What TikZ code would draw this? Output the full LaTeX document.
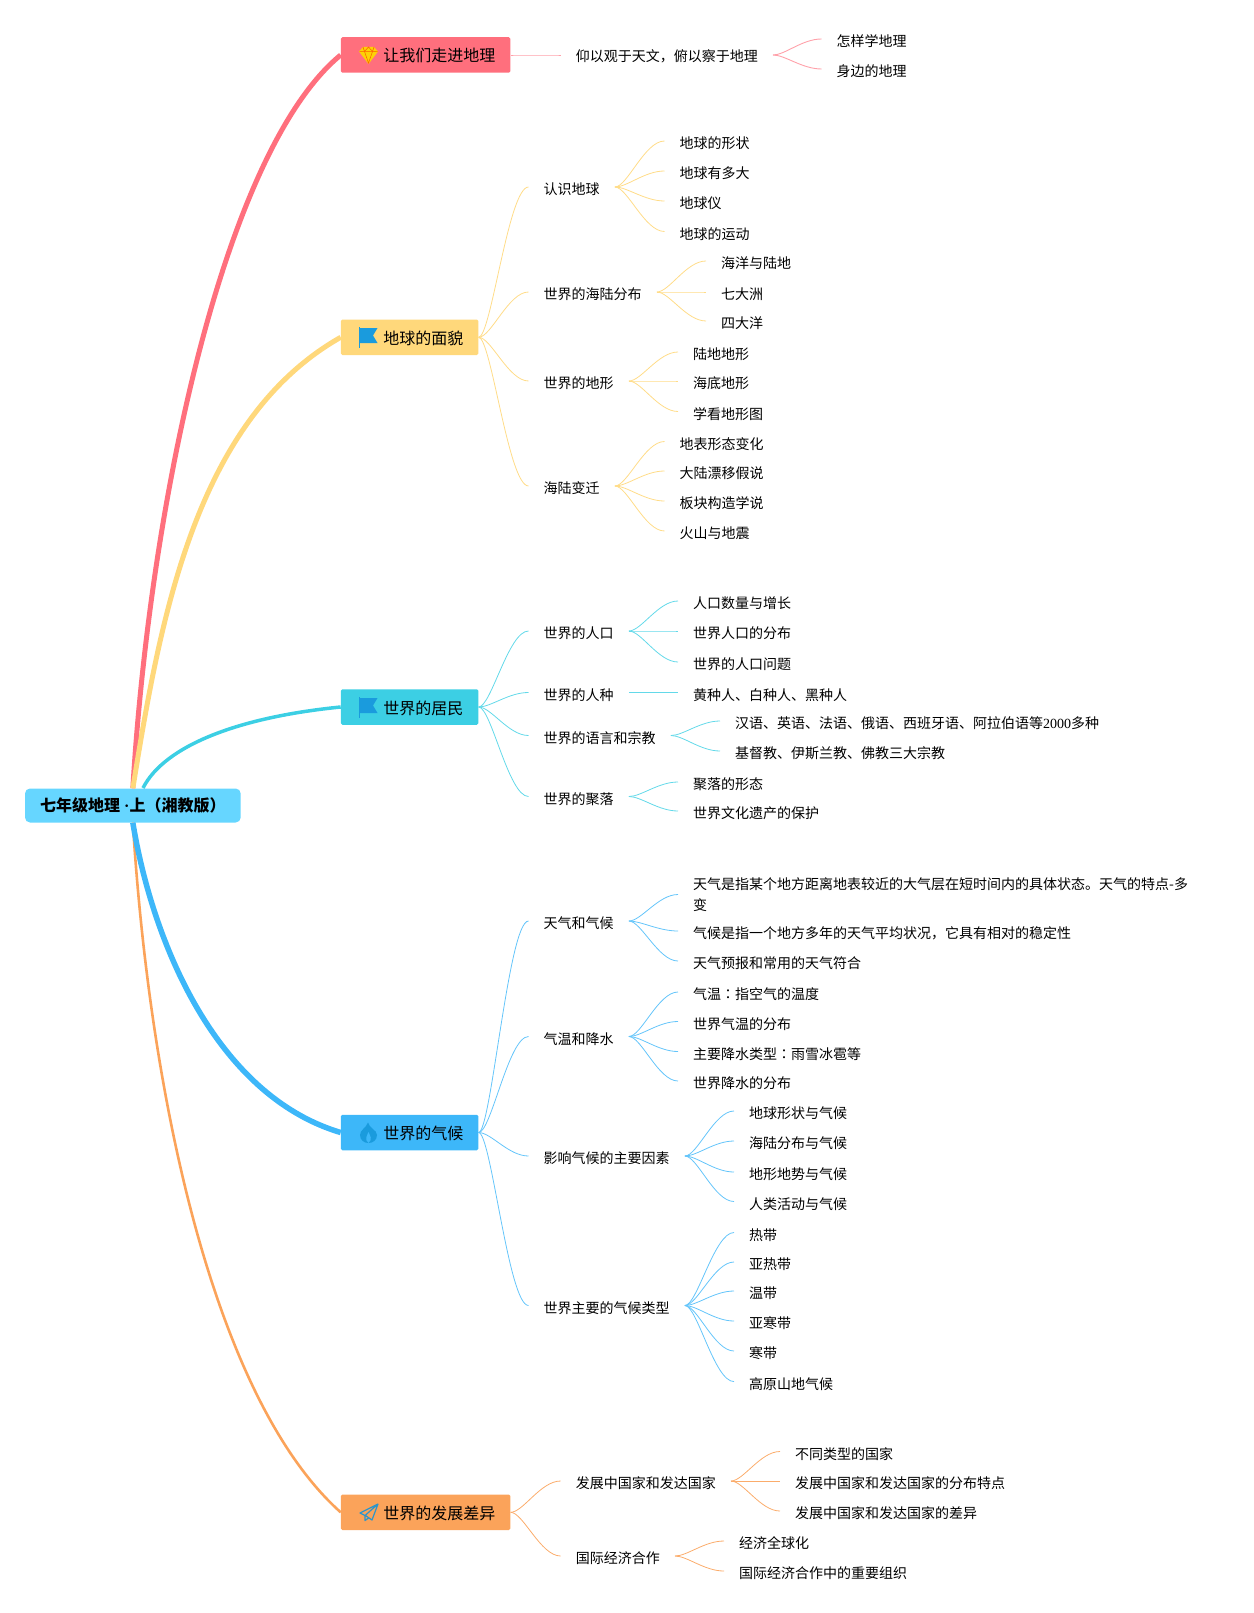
\documentclass[tikz,border=0pt]{standalone}
\usepackage{fontspec}
\setmainfont{Noto Sans CJK SC}
\newfontfamily\numfont{Liberation Serif}
\newfontfamily\colonfont{Noto Sans CJK TC}
\usetikzlibrary{calc}
\definecolor{redc}{HTML}{FF6F7D}
\definecolor{yelc}{HTML}{FFD87B}
\definecolor{cyac}{HTML}{3CCFE4}
\definecolor{bluc}{HTML}{3DB7F9}
\definecolor{orac}{HTML}{FBA35A}
\definecolor{rootc}{HTML}{66D6FF}
\definecolor{iconblue}{HTML}{1A9BDD}
\tikzset{
    rootbox/.style={fill=rootc, rounded corners=5pt, minimum width=215.7pt, minimum height=34pt, inner xsep=0pt, font=\fontsize{16}{20}\selectfont\bfseries},
    mainbox/.style={anchor=west, rounded corners=1.5pt, minimum height=35.5pt, inner xsep=15pt, text height=16pt, text depth=1.9pt, font=\fontsize{16}{20}\selectfont, execute at begin node={\hspace*{27.5pt}}},
    leaf/.style={anchor=west, inner xsep=15pt, inner ysep=0pt, text height=17pt, text depth=1.4pt, font=\fontsize{14}{20.5}\selectfont},
    wrapleaf/.style={anchor=west, inner xsep=15pt, inner ysep=0pt, align=left, font=\fontsize{14}{20.5}\selectfont},
    fork/.style={to path={.. controls ($(\tikztostart)!.25!(\tikztotarget |- \tikztostart)$) and ($(\tikztotarget)!.4!(\tikztotarget -| \tikztostart)$) .. (\tikztotarget)}},
    redline/.style={draw=redc!65, line width=0.9pt},
    yelline/.style={draw=yelc!90, line width=0.8pt},
    cyaline/.style={draw=cyac!80, line width=0.8pt},
    bluline/.style={draw=bluc!80, line width=0.8pt},
    oraline/.style={draw=orac!90, line width=0.8pt},
}
\newcommand{\twigs}[4]{%
    \foreach \nm/\y/\txt in {#4}{
        \node[leaf] (\nm) at (#2,\y) {\txt};
        \draw[#3] (#1.east) to[fork] (\nm.west);
    }
}
\begin{document}
\begin{tikzpicture}[x=1pt,y=-1pt]
    \useasboundingbox (0,0) rectangle (1253,1613);
    \node[rootbox] (root) at (132.85,805.5) {七年级地理{\numfont\ ·}上（湘教版）};
    \node[mainbox, fill=redc, text height=14.1pt] (land) at (340.7,55) {让我们走进地理};
    \node[mainbox, fill=yelc] (face) at (340.7,337.3) {地球的面貌};
    \node[mainbox, fill=cyac] (folk) at (340.7,707) {世界的居民};
    \node[mainbox, fill=bluc] (clim) at (340.7,1132.5) {世界的气候};
    \node[mainbox, fill=orac] (diff) at (340.7,1512.3) {世界的发展差异};
    \coordinate (rootr) at (143,788);
    % thick arms from the root
    \draw[orac, line width=2.6pt] (root.south) .. controls (150,1100) and (215,1400) .. (diff.west);
    \draw[bluc, line width=5.5pt] (root.south) .. controls (152,940) and (215,1095) .. (clim.west);
    \draw[cyac, line width=3.5pt] (rootr) .. controls (165,745) and (240,717) .. (folk.west);
    \draw[redc, line width=5pt] (root.north) .. controls (150,500) and (225,150) .. (land.west);
    \draw[yelc, line width=5pt] (root.north) .. controls (160,620) and (195,420) .. (face.west);
    % icons
    \fill[yellow!70!orange] (359,51.5) -- (363,47) -- (374,47) -- (378,51.5) -- (368.5,64) -- cycle;
    \draw[orange!70!red, line width=0.5pt] (359.5,51.5) -- (377.5,51.5) (363,47) -- (364.5,51.5) -- (368.5,63) -- (372.5,51.5) -- (374,47) (364.5,51.5) -- (368.5,47) -- (372.5,51.5);
    \fill[iconblue] (359,327) rectangle (359.8,348);
    \fill[iconblue] (359.8,328) -- (377.5,328) -- (373,335.5) -- (377.5,343) -- (359.8,343) -- cycle;
    \fill[iconblue] (359,697) rectangle (359.8,718);
    \fill[iconblue] (359.8,698) -- (377.5,698) -- (373,705.5) -- (377.5,713) -- (359.8,713) -- cycle;
    \fill[iconblue] (368,1122.5) .. controls (369,1128) and (377,1130) .. (377,1135) .. controls (377,1140) and (373,1143) .. (368.5,1143) .. controls (364,1143) and (360,1140) .. (360,1135) .. controls (360,1130) and (366,1128) .. (368,1122.5) -- cycle;
    \fill[bluc] (368.5,1132) .. controls (370,1136) and (373,1139) .. (368.5,1143) .. controls (364,1139) and (367,1136) .. (368.5,1132) -- cycle;
    \draw[iconblue!80!gray, line width=1.2pt, line join=round] (378,1504) -- (360,1513) -- (365,1515.5) -- (378,1504) -- (372,1520) -- (365.5,1515.5) (365,1515.5) -- (365,1520.5) -- (368.5,1518);
    % first group
    \node[leaf, text height=14pt] (view) at (560.6,55) {仰以观于天文，俯以察于地理};
    \draw[redline] (land.east) to[fork] (view.west);
    \twigs{view}{821.5}{redline}{how/39/怎样学地理, near/69/身边的地理}
    % second group
    \twigs{face}{528.5}{yelline}{know/187/认识地球, sea/292/世界的海陆分布, form/381/世界的地形, move/486/海陆变迁}
    \twigs{know}{664.5}{yelline}{ka/141/地球的形状, kb/171/地球有多大, kc/201/地球仪, kd/231.5/地球的运动}
    \twigs{sea}{706}{yelline}{sa/261/海洋与陆地, sb/292/七大洲, sc/321/四大洋}
    \twigs{form}{678}{yelline}{fa/352/陆地地形, fb/381/海底地形, fc/411.5/学看地形图}
    \twigs{move}{664.5}{yelline}{ma/441.5/地表形态变化, mb/471/大陆漂移假说, mc/501/板块构造学说, md/531/火山与地震}
    % third group
    \twigs{folk}{528.5}{cyaline}{pop/631/世界的人口, race/692.5/世界的人种, lang/735.5/世界的语言和宗教, town/796.5/世界的聚落}
    \twigs{pop}{678}{cyaline}{pa/601/人口数量与增长, pb/631/世界人口的分布, pc/662/世界的人口问题}
    \twigs{race}{678}{cyaline}{ra/692.5/黄种人、白种人、黑种人}
    \twigs{lang}{720}{cyaline}{la/721/汉语、英语、法语、俄语、西班牙语、阿拉伯语等{\numfont 2000}多种, lb/751/基督教、伊斯兰教、佛教三大宗教}
    \twigs{town}{678}{cyaline}{ta/782/聚落的形态, tb/811/世界文化遗产的保护}
    % fourth group
    \twigs{clim}{528.5}{bluline}{wea/921/天气和气候, tem/1036.5/气温和降水, why/1156/影响气候的主要因素, kin/1305.5/世界主要的气候类型}
    \node[wrapleaf] (wa) at (678,894.5) {天气是指某个地方距离地表较近的大气层在短时间内的具体状态。天气的特点-多\\变};
    \draw[bluline] (wea.east) to[fork] (wa.west);
    \twigs{wea}{678}{bluline}{wb/931/气候是指一个地方多年的天气平均状况，它具有相对的稳定性, wc/961/天气预报和常用的天气符合}
    \twigs{tem}{678}{bluline}{ea/992/气温{\colonfont ：}指空气的温度, eb/1021.5/世界气温的分布, ec/1051.5/主要降水类型{\colonfont ：}雨雪冰雹等, ed/1081/世界降水的分布}
    \twigs{why}{734}{bluline}{ya/1111/地球形状与气候, yb/1141/海陆分布与气候, yc/1172/地形地势与气候, yd/1201.5/人类活动与气候}
    \twigs{kin}{734}{bluline}{ia/1232.5/热带, ib/1262/亚热带, ic/1291/温带, id/1321/亚寒带, ie/1351/寒带, if/1381.6/高原山地气候}
    % fifth group
    \twigs{diff}{560.6}{oraline}{dev/1481/发展中国家和发达国家, eco/1556/国际经济合作}
    \twigs{dev}{780}{oraline}{da/1451.5/不同类型的国家, db/1481/发展中国家和发达国家的分布特点, dc/1511/发展中国家和发达国家的差异}
    \twigs{eco}{724}{oraline}{ca/1541/经济全球化, cb/1571/国际经济合作中的重要组织}
\end{tikzpicture}
\end{document}
